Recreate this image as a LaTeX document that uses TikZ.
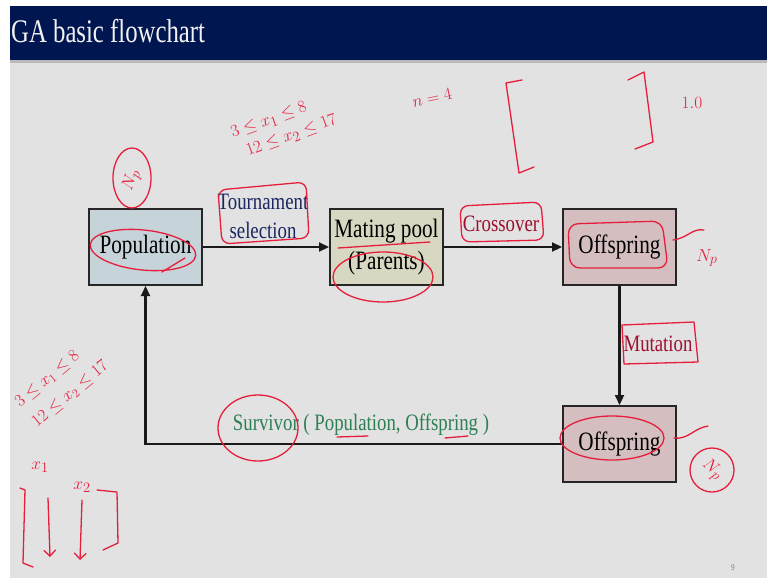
\documentclass[tikz,border=0pt]{standalone}
\usepackage{fontspec}
\setmainfont{Liberation Serif}[FakeStretch=0.8]
\newfontfamily\titlefont{Liberation Serif}[FakeStretch=0.75]
\usepackage{tikz}
\usetikzlibrary{arrows.meta,positioning,calc}
\definecolor{gabar}{HTML}{001650}
\definecolor{gaback}{HTML}{E2E2E2}
\definecolor{gapop}{HTML}{C6D3D8}
\definecolor{gapool}{HTML}{D8D8C2}
\definecolor{gaoff}{HTML}{D4BEBF}
\definecolor{ganavy}{HTML}{1C2660}
\definecolor{gared}{HTML}{9E1030}
\definecolor{gagreen}{HTML}{2F7F55}
\definecolor{inkred}{HTML}{E61E3C}
\newcommand{\fsz}[2]{\fontsize{#1}{#2}\selectfont}

\begin{document}
\begin{tikzpicture}[x=1pt,y=-1pt,
  box/.style={draw=black!85,line width=2pt,minimum width=113pt,minimum height=76pt,align=center,font=\fsz{26.5}{32}},
  lbl/.style={font=\fsz{23.5}{29},align=center,inner sep=1pt},
  arr/.style={-{Triangle[length=10pt,width=9pt]},line width=2.2pt,color=black!90},
  ink/.style={draw=inkred,line width=1.3pt,line cap=round,line join=round},
  inktext/.style={text=inkred,font=\fsz{19}{24},inner sep=0pt,align=left}]
  % slide background
  \fill[white] (0,0) rectangle (767,578);
  \fill[gaback] (10,62) rectangle (767,578);
  \fill[gabar] (10,6) rectangle (767,60);
  \fill[gray!55] (10,60) rectangle (767,63);
  \node[anchor=base west,inner sep=0pt,text=white!90!gray,font=\titlefont\fsz{33}{33}] (title) at (11,42) {GA basic flowchart};
  \node[text=gray,font=\fsz{9}{9}] (pageno) at (733,568) {9};
  % flowchart
  \node[box,fill=gapop] (pop) at (145.5,247) {Population};
  \node[box,fill=gapool,right=126pt of pop] (pool) {Mating pool\\(Parents)};
  \node[box,fill=gaoff,right=118pt of pool] (off1) {Offspring};
  \node[box,fill=gaoff,below=119pt of off1] (off2) {Offspring};
  \coordinate (back) at (pop |- off2);
  \draw[arr] (pop) -- (pool);
  \draw[arr] (pool) -- (off1);
  \draw[arr] (off1) -- (off2);
  \draw[arr] (off2.west) -- (back) -- (pop.south);
  \node[lbl,text=ganavy] (tour) at (263,216) {Tournament\\selection};
  \node[lbl,text=gared] (cross) at (501,224) {Crossover};
  \node[lbl,text=gared] (mut) at (658,344) {Mutation};
  \node[lbl,text=gagreen] (surv) at (361,425) {Survivor ( Population, Offspring )};
  % pen notes
  \draw[ink] (132,178) ellipse (19pt and 30pt);
  \node[inktext,rotate=70] (npa) at (132,180) {$N_p$};
  \draw[ink,rotate around={-6:(143,250)}] (143,250) ellipse (53pt and 20pt);
  \draw[ink] (162,272) -- (185,258);
  \draw[ink,rounded corners=8pt] (218,190) -- (306,182) -- (309,238) -- (222,244) -- cycle;
  \node[inktext,rotate=20] (ineqa) at (284,127) {$3\le x_1\le 8$\\[-2pt]\hspace*{8pt}$12\le x_2\le 17$};
  \node[inktext,rotate=12] (nfour) at (432,98) {$n=4$};
  \draw[ink] (522,80) -- (506,83) -- (519,173) -- (534,167);
  \draw[ink] (628,80) -- (644,72) -- (653,142) -- (635,149);
  \node[inktext] (onezero) at (692,103) {$1.0$};
  \draw[ink] (338,248) -- (430,242);
  \draw[ink] (383,277) ellipse (50pt and 25pt);
  \draw[ink,rounded corners=8pt] (460,206) -- (541,202) -- (544,240) -- (462,242) -- cycle;
  \draw[ink,rounded corners=10pt] (568,224) -- (662,221) -- (668,268) -- (570,268) -- cycle;
  \draw[ink] (673,240) .. controls (688,238) and (692,228) .. (704,230);
  \node[inktext] (npb) at (707,258) {$N_p$};
  \draw[ink] (622,325) -- (694,322) -- (698,362) -- (624,364) -- cycle;
  \draw[ink] (612,438) ellipse (52pt and 22pt);
  \draw[ink] (674,438) .. controls (688,440) and (694,428) .. (708,426);
  \draw[ink] (712,470) circle (22pt);
  \node[inktext,rotate=-40] (npc) at (712,470) {$N_p$};
  \draw[ink] (258,428) ellipse (40pt and 33pt);
  \draw[ink] (337,437) -- (368,436);
  \draw[ink] (445,438) -- (468,436);
  \node[inktext,rotate=40,font=\fsz{18}{22}] (ineqc) at (62,384) {$3\le x_1\le 8$\\[4pt]$12\le x_2\le 17$};
  \node[inktext] (xone) at (40,467) {$x_1$};
  \node[inktext] (xtwo) at (82,487) {$x_2$};
  \draw[ink] (20,488) -- (25,490) -- (23,563) -- (33,567);
  \draw[ink,-{Straight Barb[length=6pt]}] (48,498) -- (50,557);
  \draw[ink,-{Straight Barb[length=6pt]}] (82,500) -- (80,560);
  \draw[ink] (97,490) -- (117,492) -- (118,543) -- (103,550);
\end{tikzpicture}
\end{document}
